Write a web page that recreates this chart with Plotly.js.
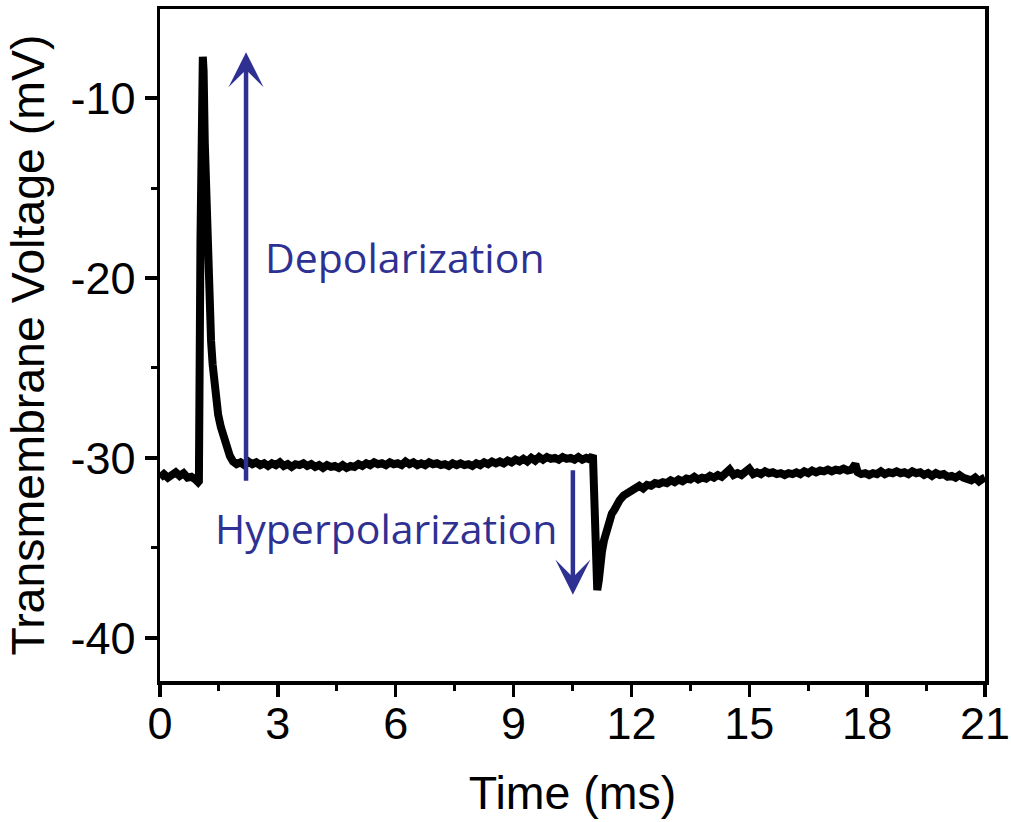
<!DOCTYPE html>
<html>
<head>
<meta charset="utf-8">
<script src="https://cdn.plot.ly/plotly-3.0.1.min.js"></script>
<style>html,body{margin:0;padding:0;background:#fff;}#chart{width:1011px;height:822px;}</style>
</head>
<body>
<div id="chart"></div>
<script>
// ---- data (time in ms, voltage in mV) ----
var preT = [0.0,0.1,0.2,0.3,0.4,0.5,0.6,0.7,0.8,0.9,0.97];
var preV = [-31.1,-30.9,-31.1,-30.95,-30.8,-31.0,-30.85,-31.1,-31.05,-31.2,-31.35];

var spikeT = [0.99,1.03,1.07,1.09,1.11,1.14,1.18,1.22,1.26,1.30,1.34,1.38,1.42,1.48,1.55,1.62,1.70,1.78,1.86,1.95];
var spikeV = [-31.3,-18.0,-8.0,-7.7,-8.5,-12.5,-16.5,-19.5,-21.8,-23.5,-24.8,-25.9,-26.7,-27.6,-28.3,-28.9,-29.5,-29.9,-30.2,-30.35];

var plateauT = [2.05,2.15,2.25,2.35,2.45,2.55,2.65,2.75,2.85,2.95,3.05,3.15,3.25,3.35,3.45,3.55,3.65,3.75,3.85,3.95,
  4.05,4.15,4.25,4.35,4.45,4.55,4.65,4.75,4.85,4.95,5.05,5.15,5.25,5.35,5.45,5.55,5.65,5.75,5.85,5.95,
  6.05,6.15,6.25,6.35,6.45,6.55,6.65,6.75,6.85,6.95,7.05,7.15,7.25,7.35,7.45,7.55,7.65,7.75,7.85,7.95,
  8.05,8.15,8.25,8.35,8.45,8.55,8.65,8.75,8.85,8.95,9.05,9.15,9.25,9.35,9.45,9.55,9.65,9.75,9.85,9.95,
  10.05,10.15,10.25,10.35,10.45,10.55,10.65,10.75,10.85,10.95,11.02];
var plateauV = [-30.25,-30.4,-30.2,-30.35,-30.25,-30.4,-30.3,-30.45,-30.3,-30.4,-30.25,-30.45,-30.35,-30.5,-30.35,-30.4,-30.3,-30.45,-30.35,-30.5,
  -30.4,-30.55,-30.4,-30.5,-30.45,-30.55,-30.4,-30.55,-30.45,-30.5,-30.35,-30.45,-30.3,-30.4,-30.25,-30.35,-30.3,-30.4,-30.25,-30.35,
  -30.3,-30.4,-30.2,-30.35,-30.25,-30.4,-30.3,-30.4,-30.25,-30.35,-30.3,-30.4,-30.35,-30.45,-30.3,-30.4,-30.3,-30.4,-30.35,-30.45,
  -30.3,-30.4,-30.25,-30.35,-30.2,-30.3,-30.2,-30.3,-30.15,-30.25,-30.1,-30.2,-30.05,-30.2,-30.0,-30.15,-29.95,-30.1,-29.95,-30.05,
  -30.0,-30.1,-29.95,-30.05,-30.0,-30.1,-29.95,-30.1,-30.0,-30.1,-29.85];

var hyperT = [11.06,11.10,11.13,11.17,11.20,11.25,11.30,11.35,11.40,11.45,11.50,11.55,11.60,11.65,11.70,11.80,11.90];
var hyperV = [-34.0,-37.0,-37.35,-36.8,-35.9,-35.2,-34.6,-34.1,-33.7,-33.5,-33.1,-32.95,-32.7,-32.55,-32.35,-32.1,-31.95];

var recoveryT = [12.0,12.1,12.2,12.3,12.4,12.5,12.6,12.7,12.8,12.9,13.0,13.1,13.2,13.3,13.4,13.5,13.6,13.7,13.8,13.9,
  14.0,14.1,14.2,14.3,14.4,14.5,14.6,14.7,14.8,14.9,15.0,15.1,15.2,15.3,15.4,15.5,15.6,15.7,15.8,15.9,
  16.0,16.1,16.2,16.3,16.4,16.5,16.6,16.7,16.8,16.9,17.0,17.1,17.2,17.3,17.4,17.5,17.6,17.7,17.76,17.85,17.95,
  18.05,18.15,18.25,18.35,18.45,18.55,18.65,18.75,18.85,18.95,19.05,19.15,19.25,19.35,19.45,19.55,19.65,19.75,19.85,19.95,
  20.05,20.15,20.25,20.35,20.45,20.55,20.65,20.75,20.85,20.95,21.0];
var recoveryV = [-31.8,-31.7,-31.55,-31.7,-31.5,-31.55,-31.4,-31.45,-31.35,-31.4,-31.25,-31.35,-31.2,-31.3,-31.15,-31.2,-31.05,-31.2,-31.1,-31.15,
  -31.0,-31.1,-30.95,-31.05,-30.9,-30.65,-30.95,-30.85,-30.95,-30.8,-30.6,-30.9,-30.8,-30.9,-30.75,-30.85,-30.8,-30.9,-30.85,-30.95,
  -30.85,-30.9,-30.8,-30.9,-30.75,-30.85,-30.7,-30.8,-30.7,-30.75,-30.65,-30.75,-30.65,-30.7,-30.6,-30.7,-30.65,-30.35,-30.8,-30.9,-30.85,
  -30.95,-30.85,-30.9,-30.75,-30.9,-30.8,-30.85,-30.75,-30.85,-30.8,-30.9,-30.75,-30.85,-30.8,-30.95,-30.85,-31.0,-30.85,-30.95,-30.9,
  -31.05,-31.0,-31.1,-30.95,-31.1,-31.15,-31.25,-31.1,-31.3,-31.15,-31.1];

var xTickVals = [0,3,6,9,12,15,18,21];
var yTickVals = [-40,-30,-20,-10];

var depolArrow = {x: 2.19, from: -31.35, to: -7.45};
var hyperArrow = {x: 10.51, from: -30.6, to: -37.6};
var labels = [
  {text: 'Depolarization', x: 6.24, y: -18.85},
  {text: 'Hyperpolarization', x: 5.75, y: -33.9}
];

var timeMs = [].concat(preT, spikeT, plateauT, hyperT, recoveryT);
var voltageMv = [].concat(preV, spikeV, plateauV, hyperV, recoveryV);

var blue = '#2e3192';
var axisFont = {family: 'Liberation Sans, Arial, sans-serif', size: 45, color: '#000'};
var titleFont = {family: 'Liberation Sans, Arial, sans-serif', size: 46.5, color: '#000'};

var trace = {
  x: timeMs, y: voltageMv, type: 'scatter', mode: 'lines',
  line: {color: '#000', width: 8, shape: 'linear'},
  hoverinfo: 'skip'
};

var annotations = [
  {x: depolArrow.x, y: depolArrow.to, ax: depolArrow.x, ay: depolArrow.from, xref: 'x', yref: 'y', axref: 'x', ayref: 'y',
   text: '', showarrow: true, arrowhead: 3, arrowsize: 1.3, arrowwidth: 4.5, arrowcolor: blue, standoff: 0, startstandoff: 0},
  {x: hyperArrow.x, y: hyperArrow.to, ax: hyperArrow.x, ay: hyperArrow.from, xref: 'x', yref: 'y', axref: 'x', ayref: 'y',
   text: '', showarrow: true, arrowhead: 3, arrowsize: 1.3, arrowwidth: 4.5, arrowcolor: blue, standoff: 0, startstandoff: 0}
];
labels.forEach(function (l) {
  annotations.push({x: l.x, y: l.y, xref: 'x', yref: 'y', text: l.text, showarrow: false,
    xanchor: 'center', yanchor: 'middle', font: {family: 'Open Sans, sans-serif', size: 41, color: blue}});
});

var layout = {
  width: 1011, height: 822,
  margin: {l: 160, r: 26, t: 9, b: 141},
  paper_bgcolor: '#fff', plot_bgcolor: '#fff',
  showlegend: false,
  font: axisFont,
  xaxis: {
    range: [0, 21], tickmode: 'array', tickvals: xTickVals, ticktext: xTickVals.map(String),
    ticks: 'outside', ticklen: 12, tickwidth: 3.5, tickcolor: '#000', ticklabelstandoff: -12,
    showline: true, linewidth: 3.5, linecolor: '#000', mirror: true,
    showgrid: false, zeroline: false, tickfont: axisFont,
    minor: {dtick: 1.5, tick0: 0, ticks: 'outside', ticklen: 6, tickwidth: 3, tickcolor: '#000', showgrid: false},
    title: {text: 'Time (ms)', font: titleFont, standoff: 30}
  },
  yaxis: {
    range: [-42.4, -5.05], tickmode: 'array', tickvals: yTickVals, ticktext: yTickVals.map(String),
    ticks: 'outside', ticklen: 12, tickwidth: 3.5, tickcolor: '#000',
    showline: true, linewidth: 3.5, linecolor: '#000', mirror: true,
    showgrid: false, zeroline: false, tickfont: axisFont,
    minor: {dtick: 5, tick0: 0, ticks: 'outside', ticklen: 6, tickwidth: 3, tickcolor: '#000', showgrid: false},
    title: {text: 'Transmembrane Voltage (mV)', font: titleFont, standoff: 12}
  },
  annotations: annotations
};

Plotly.newPlot('chart', [trace], layout, {displayModeBar: false, staticPlot: true});
</script>
</body>
</html>
